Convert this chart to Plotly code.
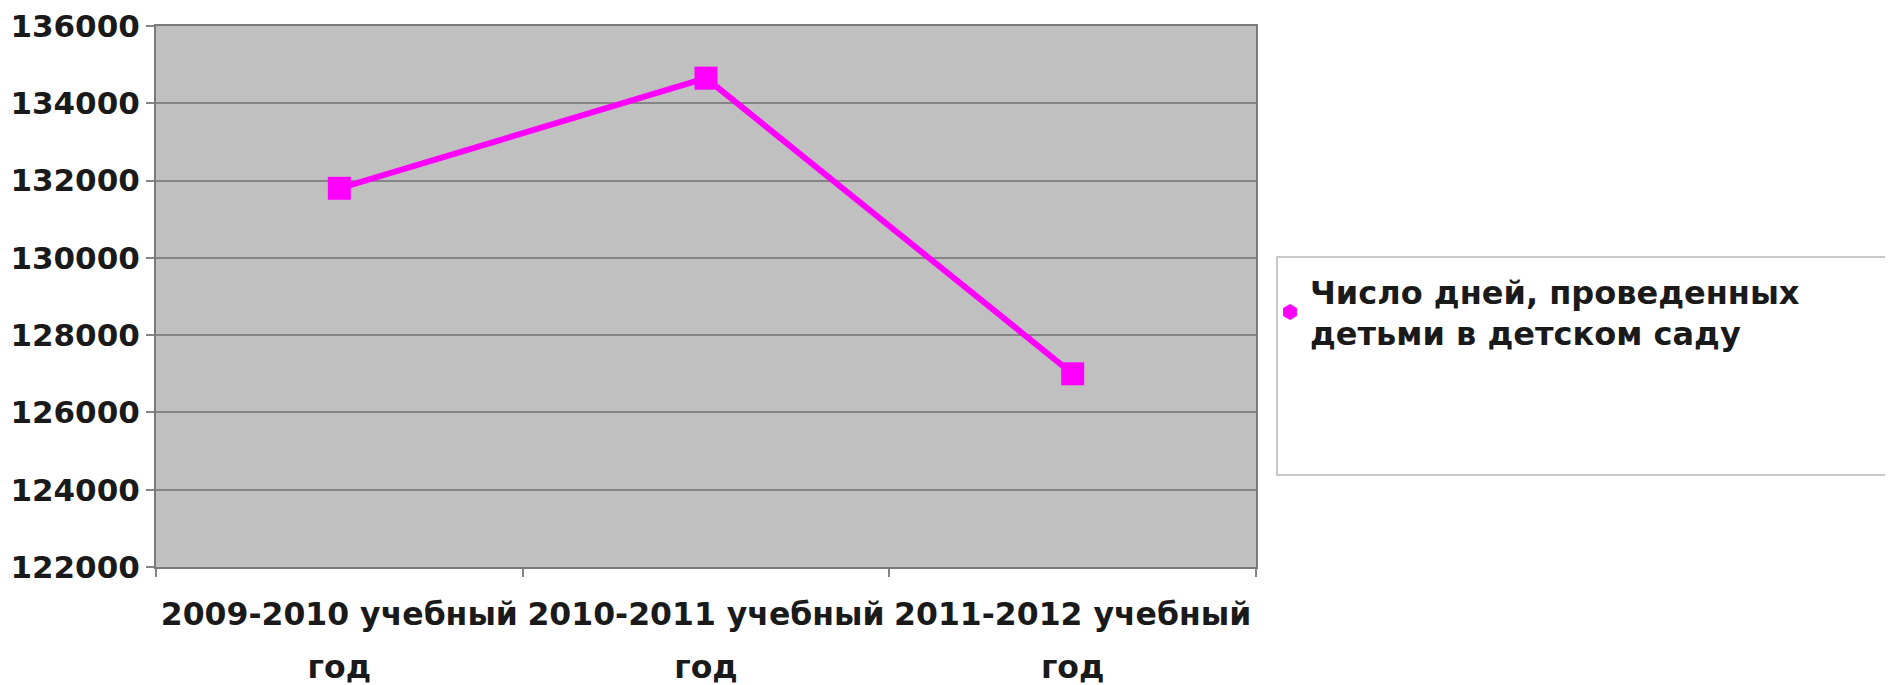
import plotly.graph_objects as go

# Data
categories = ["2009-2010 учебный", "2010-2011 учебный", "2011-2012 учебный"]
second_line = ["год", "год", "год"]
days = [131800, 134650, 127000]
series_name = "Число дней, проведенных<br>детьми в детском саду"
y_ticks = [122000, 124000, 126000, 128000, 130000, 132000, 134000, 136000]
y_tick_labels = [str(v) for v in y_ticks]

MAGENTA = "#ff00ff"
GRID = "#858585"
FONT = "DejaVu Sans"
TXT = "#1a1a1a"

fig = go.Figure()

# main series (its legend entry is drawn by a separate legend-only trace)
fig.add_trace(go.Scatter(
    x=categories, y=days, mode="lines+markers",
    line=dict(color=MAGENTA, width=6),
    marker=dict(symbol="square", size=23, color=MAGENTA),
    showlegend=False, hoverinfo="x+y",
))
# carrier for the second line of the category labels
fig.add_trace(go.Scatter(
    x=categories, y=days, xaxis="x2", mode="markers",
    marker=dict(opacity=0), showlegend=False, hoverinfo="skip",
))
# legend entry
fig.add_trace(go.Scatter(
    x=[None], y=[None], mode="markers", name=series_name,
    marker=dict(symbol="hexagon", size=16, color=MAGENTA),
    showlegend=True,
))

# the page body has an 8px margin: work in page pixels, convert to figure pixels
OFF = 8
W, H = 1893, 685
pl, pr, pt, pb = 156, 1256, 26, 567          # plot area in page pixels
L, T = pl - OFF, pt - OFF
R, B = W - (pr - OFF), H - (pb - OFF)
pw, ph = W - L - R, H - T - B

def px_x(px):
    return (px - OFF - L) / pw

def px_y(py):
    return (H - B - (py - OFF)) / ph

fig.update_layout(
    width=W, height=H,
    margin=dict(l=L, r=R, t=T, b=B, pad=0, autoexpand=False),
    paper_bgcolor="white",
    plot_bgcolor="#c0c0c0",
    font=dict(family=FONT, color=TXT),
    showlegend=True,
    legend=dict(
        x=px_x(1270), y=px_y(264), xanchor="left", yanchor="top",
        bgcolor="rgba(0,0,0,0)", borderwidth=0,
        font=dict(family=FONT, size=32, weight="bold", color=TXT),
        itemsizing="trace",
    ),
    xaxis=dict(
        type="category", categoryorder="array", categoryarray=categories,
        range=[-0.5, len(categories) - 0.5],
        tickson="boundaries", ticks="outside", ticklen=8, tickwidth=2,
        tickcolor=GRID, showgrid=False, automargin=False,
        showline=True, mirror=True, linecolor="#7a7a7a", linewidth=2,
        tickangle=0, ticklabeloverflow="allow",
        tickfont=dict(family=FONT, size=31.5, weight="bold", color=TXT),
        ticklabelstandoff=18,
        fixedrange=True,
    ),
    xaxis2=dict(
        type="category", categoryorder="array", categoryarray=categories,
        range=[-0.5, len(categories) - 0.5],
        overlaying="x", anchor="y", side="bottom", automargin=False,
        tickmode="array", tickvals=categories, ticktext=second_line,
        ticks="", showgrid=False, showline=False, zeroline=False,
        tickangle=0, ticklabeloverflow="allow",
        tickfont=dict(family=FONT, size=31.5, weight="bold", color=TXT),
        ticklabelstandoff=78,
        fixedrange=True,
    ),
    yaxis=dict(
        range=[y_ticks[0], y_ticks[-1]],
        tickmode="array", tickvals=y_ticks, ticktext=y_tick_labels,
        ticks="outside", ticklen=8, tickwidth=2, tickcolor=GRID,
        showgrid=True, gridcolor=GRID, gridwidth=2,
        zeroline=False, automargin=False, ticklabeloverflow="allow",
        showline=True, mirror=True, linecolor="#7a7a7a", linewidth=2,
        tickfont=dict(family=FONT, size=31, weight="bold", color=TXT),
        fixedrange=True,
    ),
    shapes=[dict(
        type="rect", xref="paper", yref="paper",
        x0=px_x(1277), x1=px_x(1891), y0=px_y(475), y1=px_y(257),
        line=dict(color="#c8c8c8", width=2), fillcolor="white", layer="below",
    )],
)

fig.write_html("out.html")
